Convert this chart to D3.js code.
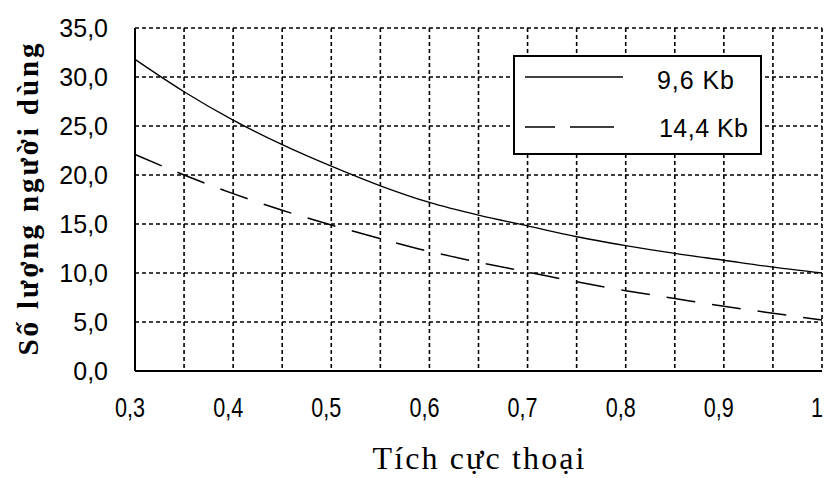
<!DOCTYPE html>
<html lang="vi">
<head>
  <meta charset="UTF-8">
  <script src="https://cdn.jsdelivr.net/npm/d3@7/dist/d3.min.js"></script>
  <title>So luong nguoi dung</title>
  <style>
    body { margin: 0; background: #fff; }
    svg { display: block; background: #fff; }
    .grid line { stroke: #000; stroke-width: 1.6; stroke-dasharray: 4,3; }
    .tick-lbl { font-family: 'Liberation Sans', Arial, sans-serif; fill: #000; }
  </style>
</head>
<body>
<div id="chart"></div>
<script>
  // data
  var activity = [0.3, 0.35, 0.4, 0.45, 0.5, 0.55, 0.6, 0.65, 0.7, 0.75, 0.8, 0.85, 0.9, 0.95, 1.0];
  var users96  = [31.8, 28.5, 25.6, 23.1, 20.9, 18.9, 17.2, 15.9, 14.8, 13.7, 12.8, 12.0, 11.3, 10.6, 10.0];
  var users144 = [22.1, 20.0, 18.1, 16.4, 14.9, 13.5, 12.2, 11.1, 10.1, 9.1, 8.2, 7.4, 6.6, 5.9, 5.2];
  var seriesNames = ["9,6 Kb", "14,4 Kb"];
  var xTicks = [0.3, 0.4, 0.5, 0.6, 0.7, 0.8, 0.9, 1.0];
  var yTicks = [0, 5, 10, 15, 20, 25, 30, 35];

  var W = 824, H = 478;
  var margin = {top: 28, right: 2, bottom: 107, left: 135};

  var svg = d3.select("#chart").append("svg")
    .attr("width", W)
    .attr("height", H);

  var x = d3.scaleLinear().domain([0.3, 1.0]).range([margin.left, W - margin.right]);
  var y = d3.scaleLinear().domain([0, 35]).range([H - margin.bottom, margin.top]);

  var fmt = function(v) { return d3.format(".1f")(v).replace(".", ","); };

  // grid
  var grid = svg.append("g").attr("class", "grid");
  grid.selectAll(".vg")
    .data(activity)
    .enter().append("line")
    .attr("x1", function(d) { return x(d); })
    .attr("x2", function(d) { return x(d); })
    .attr("y1", y(35))
    .attr("y2", y(0));
  grid.selectAll(".hg")
    .data(yTicks)
    .enter().append("line")
    .attr("x1", x(0.3))
    .attr("x2", x(1.0))
    .attr("y1", function(d) { return y(d); })
    .attr("y2", function(d) { return y(d); });

  // axes
  svg.append("line")
    .attr("x1", x(0.3)).attr("x2", x(0.3))
    .attr("y1", y(35)).attr("y2", y(0))
    .attr("stroke", "#000").attr("stroke-width", 2);
  svg.append("line")
    .attr("x1", x(0.3)).attr("x2", x(1.0))
    .attr("y1", y(0)).attr("y2", y(0))
    .attr("stroke", "#000").attr("stroke-width", 2);

  // tick labels
  svg.selectAll(".ylbl")
    .data(yTicks)
    .enter().append("text")
    .attr("class", "tick-lbl")
    .attr("x", 108)
    .attr("y", function(d) { return y(d); })
    .attr("dy", "0.36em")
    .attr("text-anchor", "end")
    .style("font-size", "25px")
    .text(fmt);

  // x labels are squeezed sideways, the original font is a narrow one
  svg.selectAll(".xlbl")
    .data(xTicks)
    .enter().append("text")
    .attr("class", "tick-lbl")
    .attr("transform", function(d) { return "translate(" + (x(d) - 5) + ",417)scale(0.8,1)"; })
    .attr("text-anchor", "middle")
    .style("font-size", "27px")
    .text(function(d) { return d == 1 ? "1" : String(d).replace(".", ","); });

  // curves
  var line = d3.line()
    .x(function(d) { return x(d[0]); })
    .y(function(d) { return y(d[1]); })
    .curve(d3.curveMonotoneX);

  svg.append("path")
    .datum(d3.zip(activity, users96))
    .attr("d", line)
    .attr("fill", "none")
    .attr("stroke", "#000")
    .attr("stroke-width", 1.3);

  svg.append("path")
    .datum(d3.zip(activity, users144))
    .attr("d", line)
    .attr("fill", "none")
    .attr("stroke", "#000")
    .attr("stroke-width", 1.5)
    .attr("stroke-dasharray", "29,17");

  // legend
  var lg = svg.append("g");
  lg.append("rect")
    .attr("x", 514).attr("y", 56)
    .attr("width", 247).attr("height", 98)
    .attr("fill", "#fff").attr("stroke", "#000").attr("stroke-width", 2);
  lg.append("line")
    .attr("x1", 525).attr("x2", 623).attr("y1", 77).attr("y2", 77)
    .attr("stroke", "#000").attr("stroke-width", 1.5);
  lg.append("line")
    .attr("x1", 525).attr("x2", 614).attr("y1", 127).attr("y2", 127)
    .attr("stroke", "#000").attr("stroke-width", 1.5)
    .attr("stroke-dasharray", "30,15,44,100");
  lg.selectAll(".ltxt")
    .data(seriesNames)
    .enter().append("text")
    .attr("x", function(d, i) { return i == 0 ? 657 : 659; })
    .attr("y", function(d, i) { return i == 0 ? 89 : 137; })
    .style("font-family", "'Liberation Sans', Arial, sans-serif")
    .style("font-size", "25px")
    .attr("textLength", function(d, i) { return i == 0 ? 77 : 89; })
    .attr("lengthAdjust", "spacing")
    .text(function(d) { return d; });

  // axis titles
  svg.append("text")
    .attr("x", (x(0.3) + x(1.0)) / 2)
    .attr("y", 469)
    .attr("text-anchor", "middle")
    .style("font-family", "'Liberation Serif', 'Times New Roman', serif")
    .style("font-size", "32px")
    .attr("textLength", 212)
    .attr("lengthAdjust", "spacing")
    .text("Tích cực thoại");

  svg.append("text")
    .attr("transform", "translate(38," + ((y(0) + y(35)) / 2) + ")rotate(-90)")
    .attr("text-anchor", "middle")
    .style("font-family", "'Liberation Serif', 'Times New Roman', serif")
    .style("font-size", "29px")
    .style("font-weight", "bold")
    .attr("textLength", 312)
    .attr("lengthAdjust", "spacing")
    .text("Số lượng người dùng");
</script>
</body>
</html>
